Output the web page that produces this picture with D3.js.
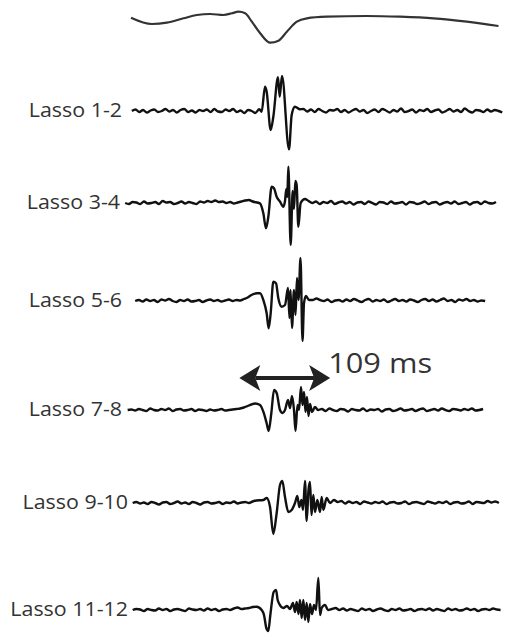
<!DOCTYPE html>
<html>
<head>
<meta charset="utf-8">
<script src="https://cdn.jsdelivr.net/npm/d3@7"></script>
<style>
  body { margin: 0; background: #fff; }
  svg { display: block; }
</style>
</head>
<body>
<svg id="chart" width="510" height="641"></svg>
<script>
// ---- Data (time in ms, amplitude in arbitrary units) ----

// Surface ECG reference trace: [time, amplitude]
const surfaceEcg = [
  [0, 2.3], [25, -4], [43, -2.7], [63, 1.7], [79, 5], [95, 6], [111, 5],
  [121, 6.7], [129, 8.3], [137, 6.7], [145, -1.7], [155, -13.3], [167, -22.7],
  [177, -20.7], [187, -11.7], [199, -1.7], [211, 1.7], [235, 3.3], [283, 4],
  [323, 3.3], [363, 1.7], [403, -1.7], [441, -6]
];

const lassoLabels = ["Lasso 1-2", "Lasso 3-4", "Lasso 5-6", "Lasso 7-8", "Lasso 9-10", "Lasso 11-12"];

// Baseline samples are taken every sampleStep ms
const sampleStep = 4.5;
const preStart  = [1, -7, 5, -4, 2, 2];
const postStart = [207, 213, 218, 229, 248, 241];

// Lasso 1-2
const lasso12Pre = [0, 1.5, -1, 1, -1.5, 0.5, 1.5, -1, 0, 2, -0.5, 1, -1.5, 1, 2, -1, 0.5, -1.5, 1, 0, 1.5, -1, 2, -0.5, -1, 1.5, 0, 2, -1, 0.5, -2, 1, 0];
const lasso12Qrs = [[149, -2], [154, 1.7], [156.8, -0.7], [160.8, 24.3], [162.8, 19.3], [167.6, -19], [170.8, -5.7], [176.4, 33.7], [178.4, 14.3], [181.2, 35], [189.6, -38.3], [192.8, -4], [196.8, 4.3], [202.8, 1.7]];
const lasso12Post = [2, -0.5, 1.5, -1, 2, 0, -1.5, 1, 0.5, 2, -1, 1, -1.5, 0.5, 2, -0.5, 1, -2, 0, 1.5, -1, 2, 0.5, -1.5, 1, -0.5, 2.5, -1, 0, 1.5, -1.5, 1, 0, 2, -1, 0.5, 1.5, -1.5, 0, 2, -0.5, 1, -1, 2.5, 0, -1.5, 1, 0.5, -1, 1.5, -0.5, 1, 0, -1.5];

// Lasso 3-4
const lasso34Pre = [0, -1, 1, 0.5, -1, 1.5, -0.5, 0, 1, -1, 2, 0.5, 1, -1, 0, 1.5, -0.5, 1, 0, -1, 1.5, 0.5, 2, 1, 2.5, 1, 1.5, 0, 1, -0.5, 0.5, 1.5, 2.5, 3, 1.5];
const lasso34Qrs = [[154.8, -0.3], [158.8, -10.3], [162, -25.3], [164.8, -13.7], [168.8, 16.3], [171.6, 14.7], [174.8, 6.3], [178.8, 1.3], [182.8, -3.7], [184.8, 2], [186.4, 14], [187.6, 6], [188.8, 36.3], [191.6, -42], [194, 12], [195.6, -6], [197.2, 22], [198.8, 18], [200.8, -23.7], [203.6, 0], [208.8, 4]];
const lasso34Post = [2, 0, 1.5, -1, 1, 0, 2, -1, 0.5, 1.5, -0.5, 1, -1.5, 0.5, 1, -1, 1.5, 0, -1.5, 1, 0.5, -1, 1.5, -0.5, 0, 1, -1.5, 1, 0.5, -1, 0, 1.5, -1, 0.5, 1, -1.5, 0, 1, -0.5, 1.5, -1, 0, 1, -1.5, 0.5, 1, -1, 1.5, 0, -0.5, 1];

// Lasso 5-6
const lasso56Pre = [0, 1, -0.5, 1.5, 0, 1, -1, 1.5, 0.5, 2, 0, -1, 1, 0, 1.5, -0.5, 0, 1, -1, 0.5, 1.5, 0, 1, -0.5, 0.5, 1.5, 0, 1, 0.5, 2, 3.5, 6];
const lasso56Qrs = [[150.8, 7.7], [154.8, 7.7], [158.8, 1], [162.8, -12.3], [165.2, -27.3], [167.6, -12.3], [170.8, 19.3], [174, 17.7], [176.8, 2.7], [180.8, -5.7], [184.8, -4], [188.4, 13], [190.2, -17], [191.4, 11], [193.2, -27], [195.6, 11], [197.4, -14], [199.2, 23], [201, 1], [203.4, 43], [205.8, -40], [207.6, -2], [210, 5], [213.6, 1]];
const lasso56Post = [1, 2.5, 1, 0, 1.5, -1, 0.5, 1, -0.5, 1.5, 0, 2, 0.5, -1, 1, 2, -0.5, 1, 0, 1.5, -1, 0.5, 2, 0, 1, -0.5, 1.5, 0.5, -1, 1, 2, 0, 1.5, -0.5, 1, 2.5, 0, 1, -1, 1.5, 0.5, 2, 0, 1, -0.5, 0.5, 0];

// Lasso 7-8
const lasso78Pre = [0, 0.5, -0.5, 1, 0, -1, 1.5, 0, -0.5, 1, 0, 1.5, -1, 0.5, 1, -0.5, 0, 1, -1, 0.5, 0, -1, 0.5, -0.5, 0, 1, -0.5, 0, 0.5, 1, 1.5, 2.5, 4, 5.5, 6.5];
const lasso78Qrs = [[154.8, 5], [158.8, -1.7], [162.8, -13.3], [165.2, -21], [168.4, -3], [171.6, 20], [174.8, 17], [178.8, 0], [182, -3], [184.8, 0], [188.4, 10], [190.8, 2], [193.2, 14], [195.6, 0], [197.4, -21], [199.8, 5], [201.6, 0], [204, 23], [205.8, 5], [207.6, 18], [209.4, -2], [211.2, 13], [213, -6], [214.8, 6], [217.2, -2], [220.8, 3], [224.4, 0]];
const lasso78Post = [1, -1, 1.5, 0, -1, 1, 0.5, -1.5, 1, 0, -0.5, 1.5, -1, 0.5, 0, 1, -1.5, 0.5, 1, -1, 0, 1.5, -0.5, 0, 1, -1, 0.5, 1.5, -1, 0, 1, -0.5, 1.5, 0, -1, 1, 0.5, -0.5, 1, 0, 1.5, -0.5, 0, 1];

// Lasso 9-10
const lasso910Pre = [0, 1, -0.5, 0.5, -1, 1, 0, -1.5, 0.5, 1, -1, 0, 1.5, -0.5, 0.5, -1, 1, 0, -1.5, 0.5, 1, -0.5, 0, 1, -1, 0.5, 0, 1.5, -0.5, 0.5, 1, 0, 1.5, 2.5];
const lasso910Qrs = [[158.8, 3], [162.8, 5], [166.8, -3.7], [170.8, -31], [174.8, -10], [178.8, 18], [181.6, 22], [184.8, 6], [188.8, -9], [192.8, -7], [196.8, 0], [199.6, 7], [202, -4], [204.6, 3], [206.4, -7], [208.8, 22], [210.8, -18], [213, 13], [214.8, 21], [216.6, -12], [218.8, 8], [220.8, -9], [223.6, 3], [226.8, -9], [228.8, 6], [230.8, -7], [234.8, 5], [238.8, 0], [243.6, 3]];
const lasso910Post = [1, 2, -0.5, 1.5, 0, 1, -1, 1.5, 0.5, -0.5, 1, 0, 1.5, -1, 0.5, 1, -0.5, 0, 1.5, -1, 0.5, 1, 0, -1, 1.5, 0.5, -0.5, 1, 0, 1.5, -1, 0.5, 1, -0.5, 0, 1.5, -1, 1, 0.5, 0, 2, 0.5, 1.5, 0];

// Lasso 11-12
const lasso1112Pre = [0, 1, 0.5, -1, 1, 0, -0.5, 1.5, 0, 1, -1, 0.5, 1, 0, -1, 1.5, 0.5, 0, 1, -0.5, 1.5, 0, 1, -1, 0.5, 1, 0, 1.5, 2.5, 1, 1.5, 2, 3];
const lasso1112Qrs = [[150.8, 3.3], [156.8, 0], [159.6, -5], [162.4, -18], [164.8, -21], [167.2, -5], [171.2, 18], [174, 20], [176, 10], [178, 6], [182.8, 2], [187.2, 4], [190.8, 1], [194.4, 7], [196.8, -2], [198.8, 8], [201, -4], [202.8, 10], [204.8, -8], [206.8, 10], [208.8, -10], [210.8, 7], [212.8, -12], [214.8, 6], [217.2, -4], [219.6, 5], [222, 0], [224.8, 32], [226.8, -5], [228.8, 2], [232.8, 5], [236.4, 0]];
const lasso1112Post = [1, 2, 0, 1.5, -0.5, 1, 0, -1, 1.5, 0, 1, -1, 0.5, 1.5, 0, -1, 1, 0, 1.5, -0.5, 0, 1, -1, 0.5, 1, 0, 1.5, -0.5, 1, 0, -1, 1.5, 0, 1, -0.5, 0, 1.5, 0, 1, -1, 0.5, 1, 0, 1.5, 0.5, 0];

// Activation duration marker
const intervalStart = 130;
const intervalMs = 109;

// ---- Layout ----
const W = 510, H = 641;
const rowY = [20, 111, 203, 301, 410, 503, 610];       // ECG row, then one per lasso pair
const labelRight = [122, 120, 122, 122, 128, 128];
const arrowY = 378;

const svg = d3.select("#chart");
svg.append("rect").attr("width", W).attr("height", H).attr("fill", "#fff");

const x = d3.scaleLinear().domain([0, 445]).range([131, 131 + 445 / 1.2]);
const rowScale = cy => d3.scaleLinear().domain([-50, 50]).range([cy + 50, cy - 50]);

// Surface ECG
{
  const y = rowScale(rowY[0]);
  svg.append("path")
    .datum(surfaceEcg)
    .attr("fill", "none")
    .attr("stroke", "#333")
    .attr("stroke-width", 2.2)
    .attr("stroke-linejoin", "round")
    .attr("d", d3.line().x(d => x(d[0])).y(d => y(d[1])).curve(d3.curveMonotoneX));
}

// Bipolar lasso electrograms
const pres  = [lasso12Pre, lasso34Pre, lasso56Pre, lasso78Pre, lasso910Pre, lasso1112Pre];
const qrss  = [lasso12Qrs, lasso34Qrs, lasso56Qrs, lasso78Qrs, lasso910Qrs, lasso1112Qrs];
const posts = [lasso12Post, lasso34Post, lasso56Post, lasso78Post, lasso910Post, lasso1112Post];

lassoLabels.forEach((label, i) => {
  const cy = rowY[i + 1];
  const y = rowScale(cy);
  const pts = pres[i].map((v, k) => [preStart[i] + k * sampleStep, v])
    .concat(qrss[i])
    .concat(posts[i].map((v, k) => [postStart[i] + k * sampleStep, v]));

  svg.append("path")
    .datum(pts)
    .attr("fill", "none")
    .attr("stroke", "#111")
    .attr("stroke-width", 2.4)
    .attr("stroke-linejoin", "round")
    .attr("d", d3.line().x(d => x(d[0])).y(d => y(d[1])).curve(d3.curveMonotoneX));

  svg.append("text")
    .attr("transform", `translate(${labelRight[i]},${cy + 6}) scale(1.07,1)`)
    .attr("text-anchor", "end")
    .attr("font-family", "'Open Sans', sans-serif")
    .attr("font-size", 20)
    .attr("fill", "#333")
    .text(label);
});

// Double-headed arrow marking the activation duration
{
  const x0 = x(intervalStart), x1 = x(intervalStart + intervalMs);
  const headL = 21, headH = 13, notch = 5;
  const g = svg.append("g").attr("fill", "#222").attr("stroke", "#222");
  g.append("line")
    .attr("x1", x0 + headL - notch).attr("x2", x1 - headL + notch)
    .attr("y1", arrowY).attr("y2", arrowY)
    .attr("stroke-width", 4);
  g.append("path")
    .attr("stroke", "none")
    .attr("d", `M${x0},${arrowY} L${x0 + headL},${arrowY - headH} L${x0 + headL - notch},${arrowY} L${x0 + headL},${arrowY + headH} Z`);
  g.append("path")
    .attr("stroke", "none")
    .attr("d", `M${x1},${arrowY} L${x1 - headL},${arrowY - headH} L${x1 - headL + notch},${arrowY} L${x1 - headL},${arrowY + headH} Z`);

  svg.append("text")
    .attr("transform", `translate(${x1 - 2},${arrowY - 5}) scale(1.14,1)`)
    .attr("font-family", "'Open Sans', sans-serif")
    .attr("font-size", 27)
    .attr("fill", "#333")
    .text(`${intervalMs} ms`);
}
</script>
</body>
</html>
